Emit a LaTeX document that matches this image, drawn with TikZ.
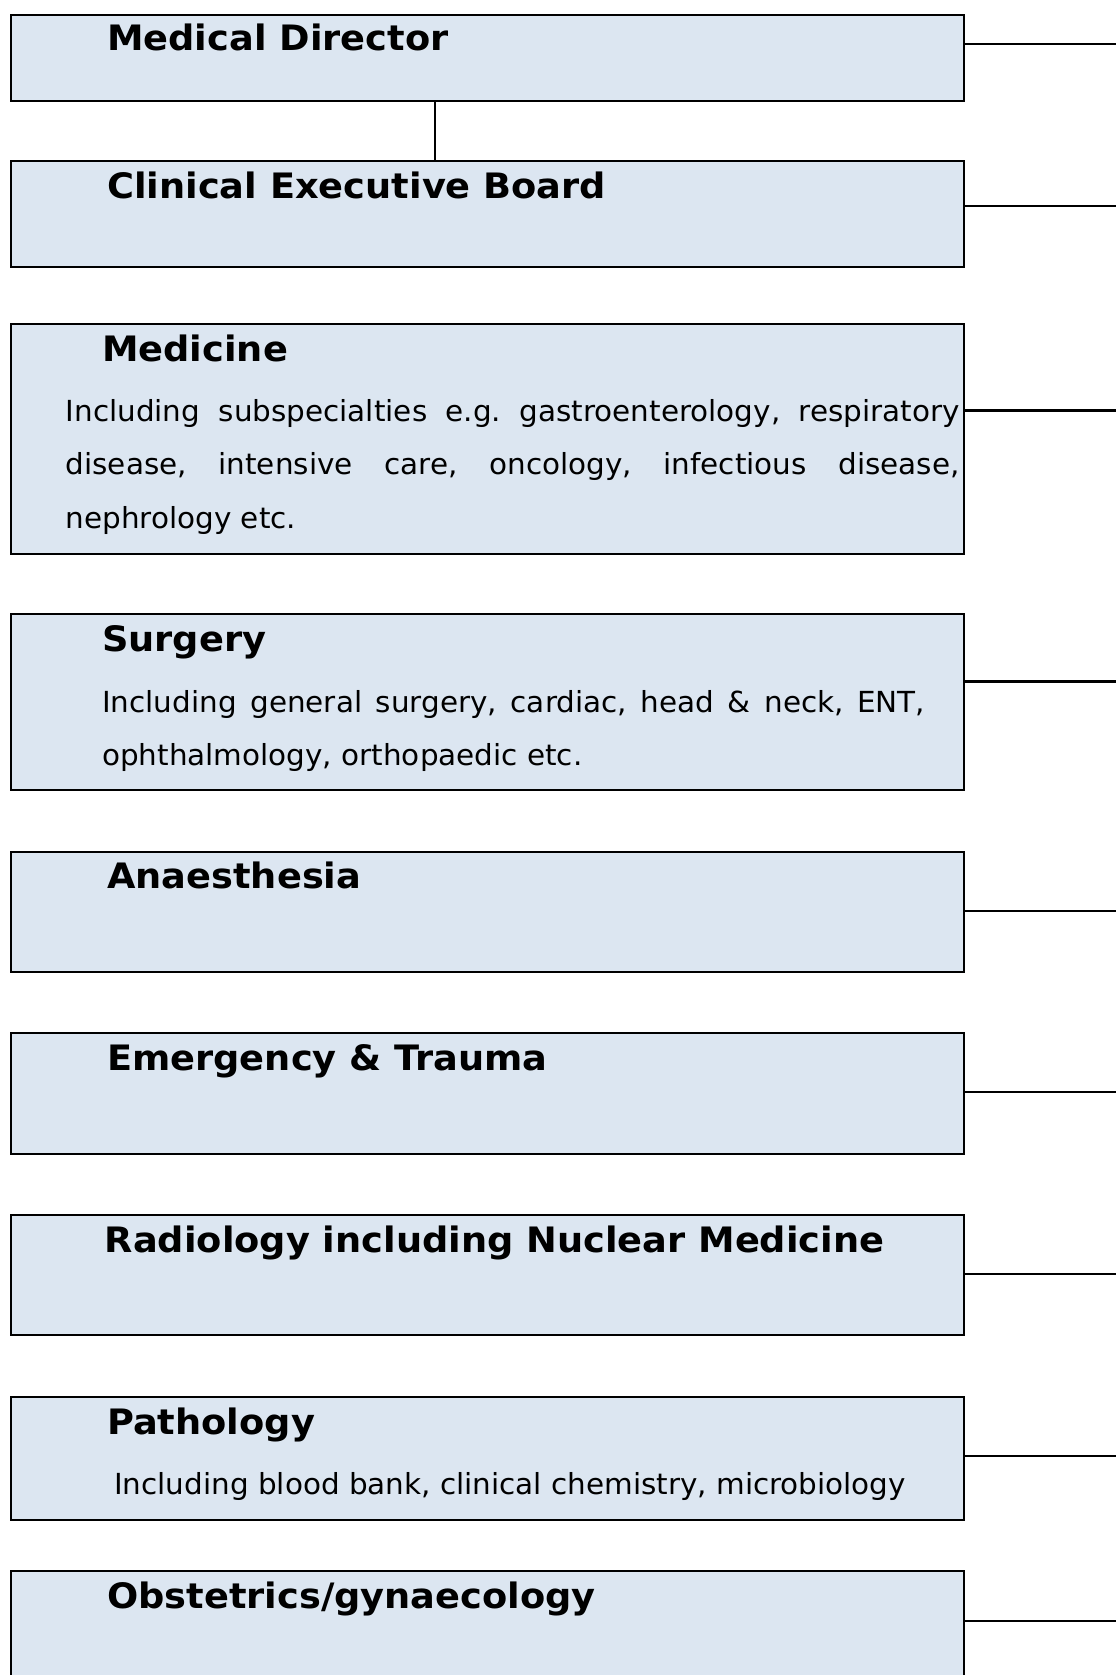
\documentclass[tikz,border=0pt]{standalone}
\usepackage{fontspec}
\setmainfont{DejaVu Sans}
\newfontfamily\titlefont{DejaVu Sans}[FakeStretch=1.05]
\newfontfamily\bodyfont{DejaVu Sans}[FakeStretch=1.015]
\definecolor{boxfill}{HTML}{DCE6F1}
\tikzset{
  box/.style={draw=black, fill=boxfill, line width=2pt, minimum width=953pt, inner sep=0pt, anchor=north west},
  title/.style={anchor=base west, inner sep=0pt, font=\titlefont\fontsize{35}{42}\selectfont\bfseries},
  body/.style={anchor=base west, inner sep=0pt, font=\bodyfont\fontsize{29}{53.5}\selectfont, align=justify},
  conn/.style={line width=2.7pt},
  vconn/.style={line width=1.7pt}
}
\newcommand\orgbox[3]{\node[box, minimum height={(#3)-(#2)}] (#1) at (9.5,#2) {};}
\begin{document}
\begin{tikzpicture}[x=1pt,y=-1pt]
\clip (0,0) rectangle (1116,1675);
\fill[white] (0,0) rectangle (1116,1675);
% boxes
\orgbox{b1}{14}{100}
\orgbox{b2}{160}{266}
\orgbox{b3}{323}{553}
\orgbox{b4}{613}{789}
\orgbox{b5}{851}{971}
\orgbox{b6}{1032}{1153}
\orgbox{b7}{1214}{1334}
\orgbox{b8}{1396}{1519}
\orgbox{b9}{1570}{1700}
% texts
\node[title] (t1) at (107,51) {Medical Director};
\node[title] (t2) at (107,198) {Clinical Executive Board};
\node[title] (t3) at (102,361) {Medicine};
\node[body, text width=894pt] (d3) at (65.5,421) {\frenchspacing Including subspecialties e.g. gastroenterology, respiratory\linebreak disease, intensive care, oncology, infectious disease,\linebreak nephrology etc.};
\node[title] (t4) at (102,651) {Surgery};
\node[body, text width=823pt] (d4) at (102,712) {\frenchspacing Including general surgery, cardiac, head \& neck, ENT,\linebreak ophthalmology, orthopaedic etc.};
\node[title] (t5) at (107,888) {Anaesthesia};
\node[title] (t6) at (107,1070) {Emergency \& Trauma};
\node[title] (t7) at (104.6,1252.5) {Radiology including Nuclear Medicine};
\node[title] (t8) at (107,1434) {Pathology};
\node[body, align=left] (d8) at (114,1494) {Including blood bank, clinical chemistry, microbiology};
\node[title] (t9) at (107,1608.6) {Obstetrics/gynaecology};
% connectors
\coordinate (v) at (435,0);
\draw[vconn] (b1.south -| v) -- (b2.north -| v);
\coordinate (e1) at (1116,44);
\coordinate (e2) at (1116,206);
\coordinate (e3) at (1116,410.5);
\coordinate (e4) at (1116,681.5);
\coordinate (e5) at (1116,911);
\coordinate (e6) at (1116,1092);
\coordinate (e7) at (1116,1274);
\coordinate (e8) at (1116,1456);
\coordinate (e9) at (1116,1621);
\foreach \i in {1,...,9} {\draw[conn] (b\i.east |- e\i) -- (e\i);}
\end{tikzpicture}
\end{document}
